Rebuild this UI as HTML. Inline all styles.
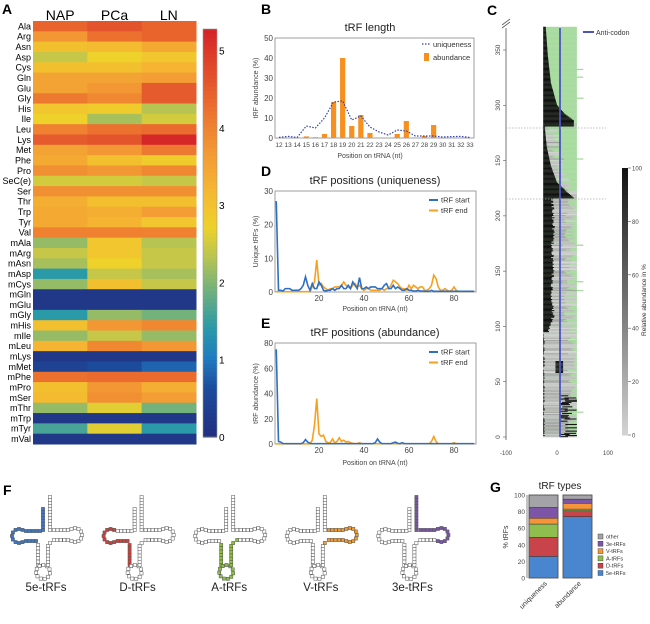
<!DOCTYPE html>
<html><head><meta charset="utf-8">
<style>
html,body{margin:0;padding:0;background:#fff;}
svg{display:block;font-family:"Liberation Sans",Arial,sans-serif;}
</style></head>
<body>
<svg id="fig" width="650" height="624" viewBox="0 0 650 624" xmlns="http://www.w3.org/2000/svg">
<text x="2" y="14" font-size="14" font-weight="bold">A</text>
<text x="261" y="14" font-size="14" font-weight="bold">B</text>
<text x="487" y="15" font-size="14" font-weight="bold">C</text>
<text x="261" y="176" font-size="14" font-weight="bold">D</text>
<text x="261" y="328" font-size="14" font-weight="bold">E</text>
<text x="3" y="495" font-size="14" font-weight="bold">F</text>
<text x="490" y="492" font-size="14" font-weight="bold">G</text>
</svg>
<script>
// ===== Panel A data =====
const hmRows=["Ala","Arg","Asn","Asp","Cys","Gln","Glu","Gly","His","Ile","Leu","Lys","Met","Phe","Pro","SeC(e)","Ser","Thr","Trp","Tyr","Val","mAla","mArg","mAsn","mAsp","mCys","mGln","mGlu","mGly","mHis","mIle","mLeu","mLys","mMet","mPhe","mPro","mSer","mThr","mTrp","mTyr","mVal"];
const hmCols=["NAP","PCa","LN"];
const hmNAP=[4.4,3.7,3.0,2.4,3.0,3.5,3.5,4.1,2.9,2.7,4.0,4.5,3.5,3.4,3.8,2.5,3.8,3.3,3.4,3.4,4.0,2.1,2.4,2.2,1.4,2.1,0.2,0.2,1.4,3.0,2.1,3.2,0.2,0.4,4.2,3.0,3.1,2.1,0.2,1.6,0.2];
const hmPCa=[4.6,4.2,3.1,2.7,3.0,3.5,3.7,3.9,2.8,2.2,4.2,4.6,3.7,3.0,3.7,2.5,3.8,3.0,3.3,3.2,4.0,2.9,2.9,2.7,2.4,3.0,0.2,0.2,2.1,3.7,2.4,3.9,0.2,0.6,4.3,3.7,3.8,2.6,0.2,2.6,0.2];
const hmLN=[4.4,4.4,3.4,2.9,3.2,3.6,4.5,4.5,2.3,2.5,4.3,5.2,4.1,2.8,3.9,2.4,3.8,3.0,3.6,2.9,4.0,2.3,2.4,2.4,2.2,2.4,0.2,0.2,1.9,3.9,2.1,3.7,0.2,0.8,4.3,3.3,3.6,1.9,0.2,1.4,0.2];
const cbTicks=[0,1,2,3,4,5];
// ===== Panel B data =====
const lenCats=[12,13,14,15,16,17,18,19,20,21,22,23,24,25,26,27,28,29,30,31,32,33];
const lenAbund=[0,0,0,0.8,0.4,2,18,40,6,11.5,2.5,0,0,2,8.5,0,1,6.5,0,0,0,0];
const lenUniq=[0.3,0.8,0.3,6,5,10,18,18.5,9,11,5.5,3,1.5,4,3.5,1,1,1,0.5,0.7,0.8,0.3];
const lenYTicks=[0,10,20,30,40,50];
// ===== Panel D data =====
const dStart=[27,0.5,0.5,0.3,1,1,1,0.5,0.5,0.5,0.5,1,2,4.5,2,0.5,2.5,1,1,3,2,0.5,0.3,0.5,0.5,1,0.5,1,1,2,1,1,2,1,3,2,1,4.3,1,1,1.5,1,1.5,1.5,1.5,1,1,1,2,2.5,1,1,2,1,1.5,1,0.5,0.5,1,0.5,0.5,0.3,0.3,0.5,0.3,0.3,0.2,0.2,0.2,0.5,0.2,0.2,0.2,0.2,0.2,0.2,0.2,0.2,0.2,0.2,0.2,0.2,0.2,0.2,0.2,0.2,0.2,0.2,0.2];
const dEnd=[0.1,0.1,0.1,0.1,0.1,0.1,0.1,0.1,0.1,0.1,0.1,0.1,0.1,0.1,0.1,0.1,1.5,3,9.5,2,2.5,1.5,1,0.5,1,1,1.5,1.5,1.5,2,3,2,1.5,1,2,2.5,1.5,2,1,0.5,1,1,0.5,0.5,0.5,0.5,0.5,1,0.5,1,1,2,3.5,3,2.5,1.5,1,1,0.5,2,1,2,1.5,1,1.5,1.5,0.5,0.5,1,2,5,4,1.5,0.5,0.5,1,0.5,0.2,0.5,1.5,0.5,0.2,0.2,0.2,0.2,0.2,0.2,0.2,0.2];
const dYTicks=[0,10,20,30];
// ===== Panel E data =====
const eStart=[75,2,1.5,0.3,0.3,0.3,0.3,0.3,0.3,0.3,0.3,0.3,1,3.5,1.5,0.5,0.3,0.3,0.3,0.3,0.3,0.3,0.3,0.3,0.3,0.3,0.3,0.3,0.3,0.3,0.3,0.3,0.3,0.3,0.3,0.3,0.3,0.3,0.3,0.3,0.3,0.3,0.3,0.3,1,4,1.5,0.3,0.3,0.3,0.3,0.3,1,1.5,0.5,0.3,1,0.3,0.3,0.3,0.3,0.3,0.3,0.3,0.3,0.3,0.3,0.3,0.3,0.3,0.3,0.3,0.3,0.3,0.3,0.3,0.3,0.3,0.3,0.3,0.3,0.3,0.3,0.3,0.3,0.3,0.3,0.3,0.3];
const eEnd=[0.1,0.1,0.1,0.1,0.1,0.1,0.1,0.1,0.1,0.1,0.1,0.1,0.1,0.1,0.1,0.1,3,15,36,8,6,7,2,1,1,4,1,2,5,2,3,1.5,2,1,0.5,0.3,0.3,1,0.2,0.2,0.2,0.2,0.2,0.2,0.2,0.2,0.2,0.2,0.2,0.2,0.2,0.2,0.2,0.2,0.2,0.2,0.2,0.2,0.2,0.2,0.2,0.2,0.2,0.2,0.2,0.2,0.2,0.2,0.2,2,6,2,0.2,0.2,0.2,0.2,0.2,0.2,0.2,1,0.2,0.2,0.2,0.2,0.2,0.2,0.2,0.2,0.2];
const eYTicks=[0,20,40,60,80];
const posXTicks=[20,40,60,80];
// ===== Panel C data =====
const cYTicks=[0,50,100,150,200,150,300,350];
const cYTickVals=[0,50,100,150,200,250,300,350];
const cXTicks=[-100,0,100];
const topStairRows=[370,345,320,300,292,286];
const topStairEnd=[-22,-18,-12,0,15,33];
const midStairRows=[280,262,245,230,222,216];
const midStairEnd=[-24,-20,-12,0,18,33];
const lowEndRows=[215,190,170,150,130,110,95];
const lowEnd=[-12,-9,-13,-10,-14,-10,-18];
const cbCTicks=[0,20,40,60,80,100];
// ===== Panel G data =====
const gBars=["uniqueness","abundance"];
const gTypes=["5e-tRFs","D-tRFs","A-tRFs","V-tRFs","3e-tRFs","other"];
const g5e=[26,74];
const gD=[23,7];
const gA=[16,2];
const gV=[7,7];
const g3e=[13,5];
const gOther=[15,5];
const gYTicks=[0,20,40,60,80,100];

const NS="http://www.w3.org/2000/svg";
const svg=document.getElementById('fig');
function mk(tag,attrs,txt){const e=document.createElementNS(NS,tag);for(const k in attrs)e.setAttribute(k,attrs[k]);if(txt!==undefined)e.textContent=txt;svg.appendChild(e);return e;}
function lerp(a,b,t){return a+(b-a)*t;}
function hex(c){return [parseInt(c.substr(1,2),16),parseInt(c.substr(3,2),16),parseInt(c.substr(5,2),16)];}
const cmStops=[[0,"#232f80"],[0.6,"#1d4b9c"],[1.0,"#1f7cc0"],[1.4,"#2a9aa8"],[1.9,"#74b27c"],[2.3,"#b8c452"],[2.7,"#eed12a"],[3.2,"#f5b533"],[3.7,"#f29734"],[4.3,"#eb6a2e"],[5.3,"#d42027"]];
function cmap(v){if(v<=cmStops[0][0])return cmStops[0][1];for(let i=1;i<cmStops.length;i++){if(v<=cmStops[i][0]){const t=(v-cmStops[i-1][0])/(cmStops[i][0]-cmStops[i-1][0]);const a=hex(cmStops[i-1][1]),b=hex(cmStops[i][1]);return `rgb(${Math.round(lerp(a[0],b[0],t))},${Math.round(lerp(a[1],b[1],t))},${Math.round(lerp(a[2],b[2],t))})`;}}return cmStops[cmStops.length-1][1];}

// ===== Panel A =====
const hmX0=33,hmW=163,hmY0=21,hmY1=444;
const hmRH=(hmY1-hmY0)/hmRows.length,hmCW=hmW/hmCols.length;
const hmData=[hmNAP,hmPCa,hmLN];
hmCols.forEach((c,j)=>{const t=mk('text',{x:hmX0+hmCW*(j+0.5),y:20,'font-size':14,'text-anchor':'middle'},c);

});
hmRows.forEach((r,i)=>{
 const t=mk('text',{x:31,y:hmY0+hmRH*(i+0.5)+3.2,'font-size':9,'text-anchor':'end'},r);
 
 
 hmData.forEach((col,j)=>{const c=mk('rect',{x:hmX0+hmCW*j,y:hmY0+hmRH*i,width:hmCW+0.5,height:hmRH+0.5,fill:cmap(col[i])});
 
 });
});
const cbTop=29,cbBot=437,cbMax=5.28;
for(let k=0;k<100;k++){const v0=cbMax*k/100;const y=cbBot-(cbBot-cbTop)*(k+1)/100;
 const r=mk('rect',{x:203,y:y,width:14,height:(cbBot-cbTop)/100+0.6,fill:cmap(v0)});
 
 }
const cbf=mk('rect',{x:203,y:cbTop,width:14,height:cbBot-cbTop,fill:'none',stroke:'#999','stroke-width':0.6});


cbTicks.forEach(v=>{const y=cbBot-(cbBot-cbTop)*v/cbMax;
 const t=mk('text',{x:219,y:y+4,'font-size':10},String(v));
 
 });

// ===== Panel B =====
const bX0=275,bX1=474,bY0=138,bY1=38;
const bx=k=>279+k*(470-279)/(lenCats.length-1);
const by=v=>bY0-(bY0-bY1)*v/50;
const bf=mk('rect',{x:bX0,y:bY1,width:bX1-bX0,height:bY0-bY1,fill:'none',stroke:'#888','stroke-width':0.8});


let tt=mk('text',{x:370,y:31,'font-size':11,'text-anchor':'middle',fill:'#222'},'tRF length');


lenYTicks.forEach(v=>{const t=mk('text',{x:273,y:by(v)+3,'font-size':8,'text-anchor':'end',fill:'#444'},String(v));
 
 });
lenCats.forEach((c,k)=>{const t=mk('text',{x:bx(k),y:147,'font-size':6.5,'text-anchor':'middle',fill:'#444'},String(c));
 
 
 if(lenAbund[k]>0){const r=mk('rect',{x:bx(k)-2.6,y:by(lenAbund[k]),width:5.2,height:bY0-by(lenAbund[k]),fill:'#f7901e'});
 
 }});
const up=mk('polyline',{points:lenUniq.map((v,k)=>bx(k)+','+by(v)).join(' '),fill:'none',stroke:'#3340b0','stroke-width':1.2,'stroke-dasharray':'1.5,1.5'});


tt=mk('text',{x:370,y:158,'font-size':7,'text-anchor':'middle',fill:'#444'},'Position on tRNA (nt)');


tt=mk('text',{x:0,y:0,'font-size':7,'text-anchor':'middle',fill:'#444',transform:'translate(258,88) rotate(-90)'},'tRF abundance (%)');


let lg=mk('line',{x1:422,y1:44,x2:431,y2:44,stroke:'#3340b0','stroke-width':1.3,'stroke-dasharray':'1.5,1.5'});


tt=mk('text',{x:433,y:47,'font-size':7.5,fill:'#333'},'uniqueness');


lg=mk('rect',{x:424,y:53,width:5,height:8,fill:'#f7901e'});


tt=mk('text',{x:433,y:60,'font-size':7.5,fill:'#333'},'abundance');



// ===== Panels D & E =====
const px=p=>274+(p-0)*2.25;
function posChart(name,title,yTitle,yTop,yBot,yMax,ticks,sArr,eArr,titleY,xLabY,xTitleY){
 const f=mk('rect',{x:275,y:yTop,width:201,height:yBot-yTop,fill:'none',stroke:'#888','stroke-width':0.8});
 
 
 const py=v=>yBot-(yBot-yTop)*v/yMax;
 let t=mk('text',{x:375,y:titleY,'font-size':11,'text-anchor':'middle',fill:'#222'},title);
 
 
 ticks.forEach(v=>{const k=mk('text',{x:273,y:py(v)+3,'font-size':8,'text-anchor':'end',fill:'#444'},String(v));
  
  });
 posXTicks.forEach(v=>{const k=mk('text',{x:px(v),y:xLabY,'font-size':8,'text-anchor':'middle',fill:'#444'},String(v));
  
  });
 t=mk('text',{x:375,y:xTitleY,'font-size':7,'text-anchor':'middle',fill:'#444'},'Position on tRNA (nt)');
 
 
 t=mk('text',{x:0,y:0,'font-size':7,'text-anchor':'middle',fill:'#444',transform:`translate(258,${(yTop+yBot)/2}) rotate(-90)`},yTitle);
 
 
 const lo=mk('polyline',{points:eArr.map((v,i)=>px(i+1)+','+py(v)).join(' '),fill:'none',stroke:'#f7a01e','stroke-width':1.6});
 
 
 const lb=mk('polyline',{points:sArr.map((v,i)=>px(i+1)+','+py(v)).join(' '),fill:'none',stroke:'#2e6fc4','stroke-width':1.6});
 
 
 const l1=mk('line',{x1:429,y1:yTop+9,x2:438,y2:yTop+9,stroke:'#2e6fc4','stroke-width':2});
 
 
 t=mk('text',{x:441,y:yTop+11.5,'font-size':7.5,fill:'#333'},'tRF start');
 
 
 const l2=mk('line',{x1:429,y1:yTop+19.5,x2:438,y2:yTop+19.5,stroke:'#f7a01e','stroke-width':2});
 
 
 t=mk('text',{x:441,y:yTop+22,'font-size':7.5,fill:'#333'},'tRF end');
 
 
}
posChart('uniqueness-positions','tRF positions (uniqueness)','Unique tRFs (%)',191,292,30,dYTicks,dStart,dEnd,184,301,311);
posChart('abundance-positions','tRF positions (abundance)','tRF abundance (%)',343,444,80,eYTicks,eStart,eEnd,336,453,465);

// ===== Panel C =====
const cyS=v=>437-v*(437-50)/350;
const cxS=v=>557+v*0.51;
function interp(rows,vals,r){for(let i=1;i<rows.length;i++){const a=rows[i-1],b=rows[i];if((r<=a&&r>=b)){const t=(a-r)/(a-b);return vals[i-1]+(vals[i]-vals[i-1])*t;}}return vals[vals.length-1];}
function hsh(i,k){return ((i*73+k*151+((i*i)%29)*17)%100)/100;}
const cAxis=mk('line',{x1:506,y1:28,x2:506,y2:440,stroke:'#555','stroke-width':0.8});


const brk=mk('path',{d:'M502,28 L510,22 M502,25 L510,19',stroke:'#555','stroke-width':0.8,fill:'none'});


cYTickVals.forEach((v,i)=>{const y=cyS(v);
 const tk=mk('line',{x1:503,y1:y,x2:506,y2:y,stroke:'#555','stroke-width':0.6});
 
 
 const t=mk('text',{x:0,y:0,'font-size':6.5,'text-anchor':'middle',fill:'#444',transform:`translate(500,${y}) rotate(-90)`},String(cYTicks[i]));
 
 });
cXTicks.forEach(v=>{const t=mk('text',{x:cxS(v),y:455,'font-size':6,'text-anchor':'middle',fill:'#444'},String(v));
 
 });
const cRowH=(437-50)/350;
for(let r=0;r<=370;r++){
 const y=cyS(r)-cRowH;
 const ext=hsh(r,3)>0.96?cxS(42+hsh(r,4)*20):cxS(39);
 const g=mk('rect',{x:cxS(-27),y:y,width:ext-cxS(-27),height:cRowH+0.2,fill:'#a8dba0'});
 
 
 let bEnd,greyFrom,greyTo;
 if(r>=285){bEnd=interp(topStairRows,topStairEnd,r);greyFrom=null;}
 else if(r>=216){bEnd=interp(midStairRows,midStairEnd,r);greyFrom=bEnd;greyTo=bEnd+hsh(r,1)*30;}
 else if(r>=95){bEnd=interp(lowEndRows,lowEnd,r)+hsh(r,2)*6;greyFrom=bEnd;greyTo=bEnd+20+hsh(r,5)*40;}
 else {bEnd=-27+hsh(r,2)*3;greyFrom=bEnd;greyTo=bEnd+45+hsh(r,5)*30;}
 if(greyFrom!==null){const gv=Math.round(160+hsh(r,7)*55);
  const gr=mk('rect',{x:cxS(greyFrom),y:y,width:Math.max(0,cxS(Math.min(greyTo,39))-cxS(greyFrom)),height:cRowH+0.2,fill:`rgb(${gv},${gv},${gv})`});
  
  }
 const bk=mk('rect',{x:cxS(-27),y:y,width:Math.max(0,cxS(bEnd)-cxS(-27)),height:cRowH+0.2,fill:'#111'});
 
 
 if(r<40&&hsh(r,9)>0.3){const s=5+hsh(r,6)*12;const b2=mk('rect',{x:cxS(s),y:y,width:Math.max(0,cxS(Math.min(39,s+15+hsh(r,8)*10))-cxS(s)),height:cRowH+0.2,fill:'#151515'});
  
  }
 if(r>=58&&r<=68){const b3=mk('rect',{x:cxS(-3),y:y,width:cxS(12)-cxS(-3),height:cRowH+0.2,fill:'#1a1a1a'});
  
  }
}
const ac=mk('line',{x1:560,y1:28,x2:560,y2:437,stroke:'#4a55c0','stroke-width':1.8});


[128,199].forEach(y=>{const d=mk('line',{x1:506,y1:y,x2:606,y2:y,stroke:'#aaa','stroke-width':0.8,'stroke-dasharray':'1.5,1.5'});
 
 });
const acl=mk('line',{x1:583,y1:32,x2:594,y2:32,stroke:'#4a55c0','stroke-width':2});


tt=mk('text',{x:596,y:35,'font-size':7,fill:'#333'},'Anti-codon');


for(let k=0;k<60;k++){const v=Math.round(20+190*k/59);
 const r=mk('rect',{x:622,y:168+(435-168)*k/60,width:6,height:(435-168)/60+0.5,fill:`rgb(${v},${v},${v})`});
 
 }
cbCTicks.forEach(v=>{const y=435-(435-168)*v/100;
 const l=mk('line',{x1:628,y1:y,x2:631,y2:y,stroke:'#555','stroke-width':0.6});
 
 
 const t=mk('text',{x:632,y:y+2.5,'font-size':6,fill:'#444'},String(v));
 
 });
tt=mk('text',{x:0,y:0,'font-size':6.5,'text-anchor':'middle',fill:'#333',transform:'translate(646,300) rotate(-90)'},'Relative abundance in %');



// ===== Panel F =====
const fTypes=["5e-tRFs","D-tRFs","A-tRFs","V-tRFs","3e-tRFs"];
const fColors=["#3a78c8","#d2403a","#8cc03e","#f59a2e","#7a55a8"];
function beadsLine(x1,y1,x2,y2,n){const a=[];for(let i=0;i<n;i++){const t=n==1?0:i/(n-1);a.push([x1+(x2-x1)*t,y1+(y2-y1)*t]);}return a;}
function beadsArc(cx,cy,r,a0,a1,n){const a=[];for(let i=0;i<n;i++){const t=(a0+(a1-a0)*i/(n-1))*Math.PI/180;a.push([cx+r*Math.cos(t),cy+r*Math.sin(t)]);}return a;}
function tRNA(ox,typeIdx){
 const segs={
  acc5:beadsLine(43,509,43,530,8),
  dTop:beadsLine(40,531,26,531,5),
  dLoop:beadsArc(19,536,7,-60,-300,9),
  dBot:beadsLine(26,541,36,541,4),
  acL:beadsLine(38,545,38,565,7),
  acLoop:beadsArc(43,572,7,-120,240,12),
  acR:beadsLine(48,565,48,546,7),
  vl:beadsLine(50,543,54,540,2),
  tBot:beadsLine(57,540,68,540,4),
  tLoop:beadsArc(75,535,7,120,-120,9),
  tTop:beadsLine(68,530,54,530,5),
  acc3:beadsLine(50,530,50,497,12)
 };
 const colored={0:['acc5','dTop','dLoop','dBot'],1:['dLoop','dBot','acL'],2:['acL','acLoop','acR','vl'],3:['vl','tBot','tLoop','tTop'],4:['acc3','tLoop','tTop']}[typeIdx];
 for(const k in segs){const col=colored.includes(k)?fColors[typeIdx]:'#fff';
  segs[k].forEach(p=>{const b=mk('rect',{x:ox+p[0]-1.6,y:p[1]-1.6,width:3.2,height:3.2,fill:col,stroke:'#555','stroke-width':0.5});
  
  });}
 const t=mk('text',{x:ox+46,y:591,'font-size':11.5,'text-anchor':'middle',fill:'#222'},fTypes[typeIdx]);
 
 
}
fTypes.forEach((f,i)=>tRNA(i*91.6,i));

// ===== Panel G =====
const gY0=578,gY1=495;
const gy=v=>gY0-(gY0-gY1)*v/100;
const gBarX=[529,563],gBW=29;
const gCols=["#4a86cf","#c8444a","#8fbe4e","#f7943a","#7c55a6","#a3a3a8"];
tt=mk('text',{x:560,y:489,'font-size':10,'text-anchor':'middle',fill:'#222'},'tRF types');


const gax=mk('line',{x1:527,y1:gY1,x2:527,y2:gY0,stroke:'#555','stroke-width':0.7});


gYTicks.forEach(v=>{const t=mk('text',{x:525,y:gy(v)+2.5,'font-size':6.5,'text-anchor':'end',fill:'#444'},String(v));
 
 });
tt=mk('text',{x:0,y:0,'font-size':7,'text-anchor':'middle',fill:'#333',transform:'translate(508,537) rotate(-90)'},'% tRFs');


const gSeries=[g5e,gD,gA,gV,g3e,gOther];
gBars.forEach((b,j)=>{let acc=0;
 gSeries.forEach((s,k)=>{const r=mk('rect',{x:gBarX[j],y:gy(acc+s[j]),width:gBW,height:gy(acc)-gy(acc+s[j]),fill:gCols[k],stroke:'#333','stroke-width':0.5});
  
  
  acc+=s[j];});
 const fr=mk('rect',{x:gBarX[j],y:gy(100),width:gBW,height:gy(0)-gy(100),fill:'none',stroke:'#555','stroke-width':0.8});
 
 
 const t=mk('text',{x:0,y:0,'font-size':7,'text-anchor':'end',fill:'#333',transform:`translate(${gBarX[j]+gBW/2+4},584) rotate(-45)`},b);
 
 });
gTypes.slice().reverse().forEach((n,i)=>{const k=gTypes.length-1-i;const y=534+i*7.3;
 const s=mk('rect',{x:598,y:y,width:5,height:5,fill:gCols[k],stroke:'#333','stroke-width':0.4});
 
 
 const t=mk('text',{x:606,y:y+4.5,'font-size':5.5,fill:'#333'},n);
 
 });
</script>
</body></html>
